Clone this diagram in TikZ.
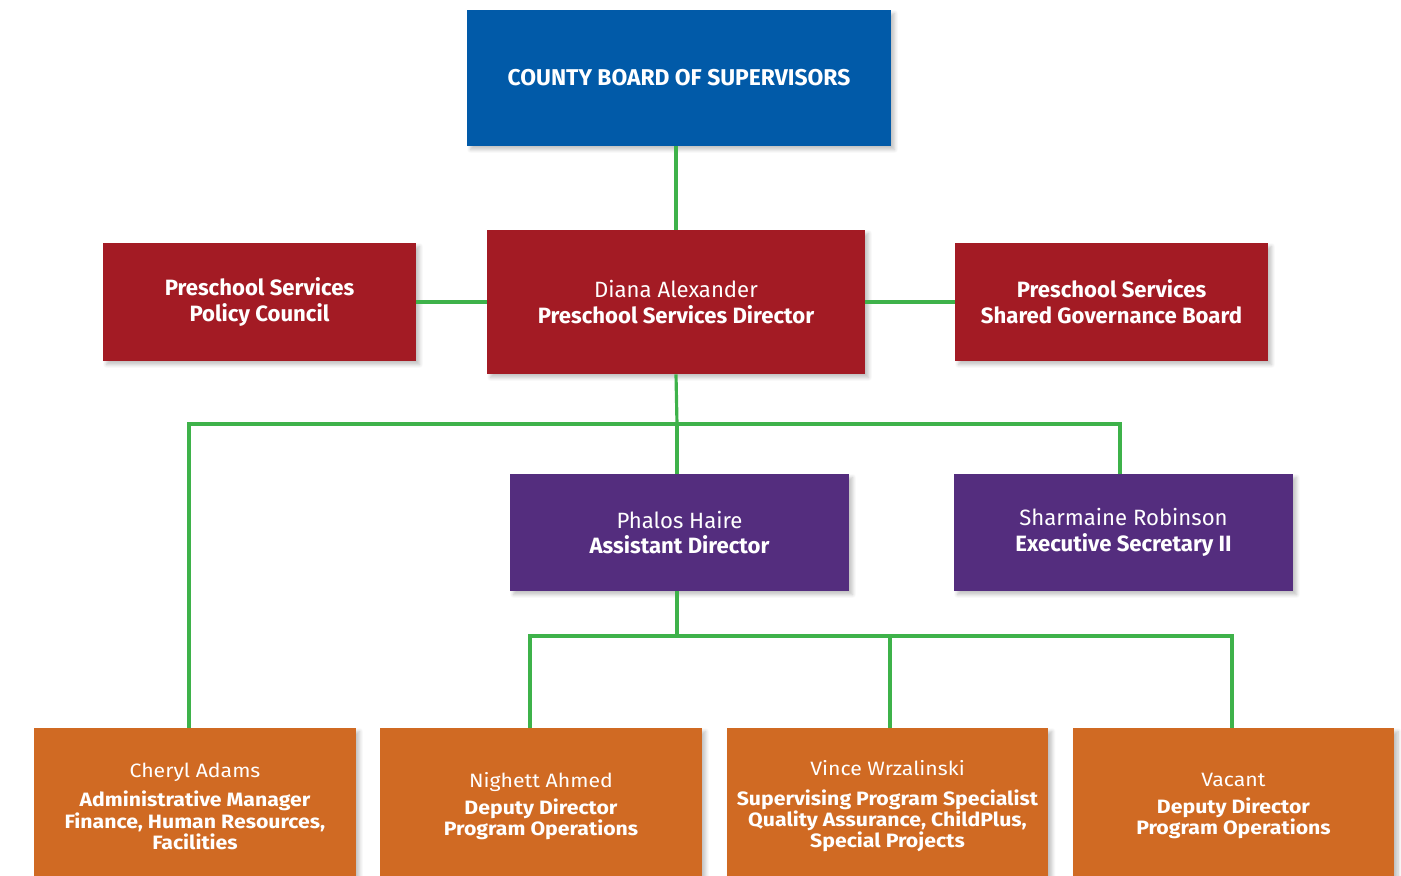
\documentclass[tikz,border=0pt]{standalone}
\usepackage{fontspec}
\setmainfont{Fira Sans}
\newfontfamily\condfont{Fira Sans}[FakeStretch=1.1]
\newcommand\tightlines{\lineskiplimit=-20pt\relax}
\usepackage{tikz}
\usetikzlibrary{positioning,calc,shadows.blur}
\definecolor{board}{RGB}{1,90,168}
\definecolor{crimson}{RGB}{163,27,36}
\definecolor{violet}{RGB}{84,45,126}
\definecolor{rust}{RGB}{208,106,35}
\definecolor{leaf}{RGB}{62,178,74}
\tikzset{
  unit/.style={text=white,align=center,inner sep=2pt,
    blur shadow={shadow xshift=2pt,shadow yshift=-2pt,shadow opacity=25,shadow blur steps=6},
    font=\fontsize{12.6}{14.7}\selectfont},
  topbox/.style={unit,fill=board,minimum width=8.48cm,minimum height=2.72cm,font=\fontsize{13}{15}\selectfont\bfseries},
  redbox/.style={unit,fill=crimson,minimum width=6.26cm,minimum height=2.36cm},
  purbox/.style={unit,fill=violet,minimum width=6.78cm,minimum height=2.34cm},
  orgbox/.style={unit,fill=rust,minimum width=6.44cm,minimum height=3.12cm,
    font=\condfont\fontsize{11}{12}\selectfont\tightlines},
  link/.style={draw=leaf,line width=1.8pt}
}
\begin{document}
\begin{tikzpicture}[x=0.02cm,y=-0.02cm]
\useasboundingbox (0,0) rectangle (1401,876);
\clip (0,0) rectangle (1401,876);
\node[topbox] (board) at (679,78) {COUNTY BOARD OF SUPERVISORS};
\node[redbox,minimum width=7.56cm,minimum height=2.88cm] (director) at (676,302) {Diana Alexander\\\textbf{Preschool Services Director}};
\node[redbox] (council) at (259.5,302) {\textbf{Preschool Services}\\\textbf{Policy Council}};
\node[redbox] (governance) at (1111.5,302) {\textbf{Preschool Services}\\\textbf{Shared Governance Board}};
\node[purbox] (asst) at (679.5,532.5) {Phalos Haire\\\textbf{Assistant Director}};
\node[purbox] (execsec) at (1123.5,532.5) {Sharmaine Robinson\\\textbf{Executive Secretary II}};
\node[orgbox] (cheryl) at (195,806) {Cheryl Adams\\[5pt]\textbf{Administrative Manager}\\\textbf{Finance, Human Resources,}\\\textbf{Facilities}};
\node[orgbox] (nighett) at (541,806) {Nighett Ahmed\\[3pt]\textbf{Deputy Director}\\\textbf{Program Operations}};
\node[orgbox] (vince) at (887.5,806) {Vince Wrzalinski\\[5pt]\textbf{Supervising Program Specialist}\\\textbf{Quality Assurance, ChildPlus,}\\\textbf{Special Projects}};
\node[orgbox] (vacant) at (1233.5,806) {Vacant\\[3pt]\textbf{Deputy Director}\\\textbf{Program Operations}};
\coordinate (topbus) at (677,424);
\coordinate (lowbus) at (677,636);
% connectors
\draw[link] (board.south -| director.north) -- (director.north);
\draw[link] (council.east) -- (director.west);
\draw[link] (director.east) -- (governance.west);
\draw[link] (director.south) -- (topbus);
\draw[link] ([xshift=-0.12cm]cheryl.north) |- (topbus) -| ([xshift=-0.07cm]execsec.north);
\draw[link] (topbus) -- (asst.north -| topbus);
\draw[link] (asst.south -| lowbus) -- (lowbus);
\draw[link] ([xshift=-0.22cm]nighett.north) |- (lowbus) -| ([xshift=-0.03cm]vacant.north);
\draw[link] ([xshift=0.05cm]vince.north) -- ([xshift=0.05cm]vince.north |- lowbus);
\end{tikzpicture}
\end{document}
